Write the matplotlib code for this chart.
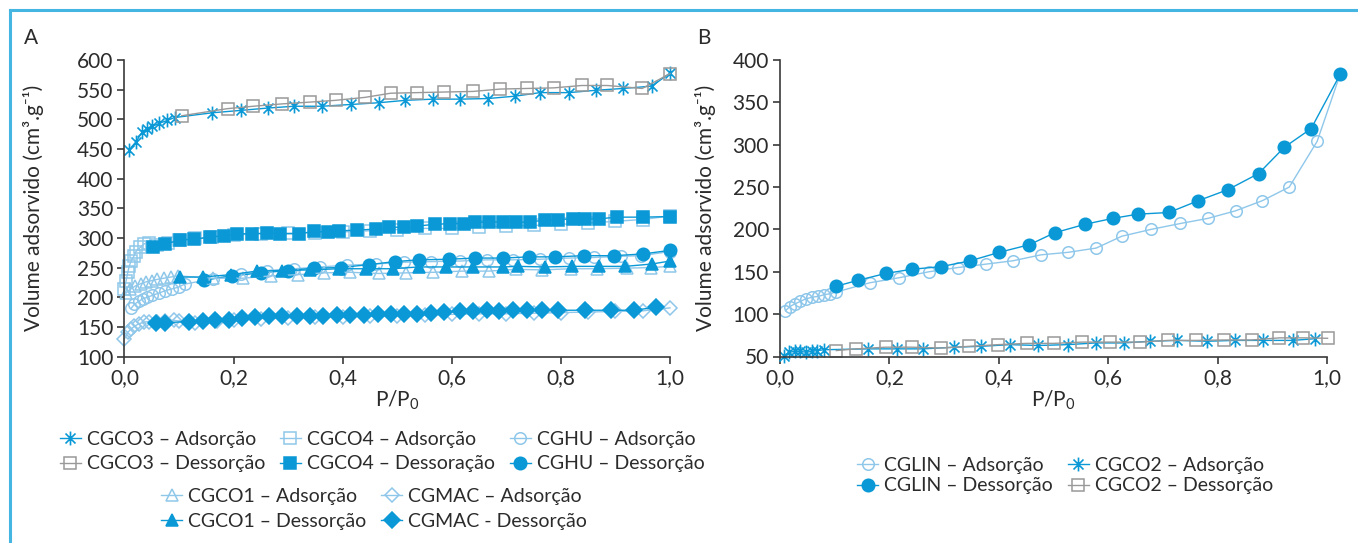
import matplotlib
matplotlib.use("Agg")
import matplotlib.pyplot as plt
from matplotlib.path import Path
from matplotlib.lines import Line2D

# ---------------- data: panel A ----------------
cgco3_ads_x = [0.009, 0.021, 0.032, 0.042, 0.051, 0.063, 0.078, 0.092, 0.161, 0.213, 0.263, 0.311, 0.362,
               0.415, 0.467, 0.515, 0.566, 0.615, 0.666, 0.716, 0.762, 0.815, 0.865, 0.914, 0.967, 1.0]
cgco3_ads_y = [449, 462, 478, 483, 488, 493, 498, 503, 511, 515, 519, 522, 522,
               525, 528, 532, 534, 534, 535, 539, 545, 545, 549, 552, 556, 578]
cgco3_des_x = [1.0, 0.949, 0.885, 0.838, 0.787, 0.738, 0.689, 0.639, 0.586, 0.537, 0.488, 0.441, 0.387,
               0.340, 0.289, 0.236, 0.189, 0.105]
cgco3_des_y = [577, 552, 557, 557, 553, 552, 551, 547, 546, 545, 544, 537, 532, 529, 526, 522, 518, 506]

cgco4_ads_x = [0.0, 0.003, 0.006, 0.009, 0.012, 0.017, 0.021, 0.029, 0.036, 0.045, 0.06, 0.08, 0.1, 0.13,
               0.16, 0.2, 0.25, 0.3, 0.35, 0.4, 0.45, 0.5, 0.55, 0.6, 0.65, 0.7, 0.75, 0.8, 0.85, 0.9,
               0.95, 1.0]
cgco4_ads_y = [214, 228, 242, 253, 261, 269, 277, 284, 290, 292, 288, 292, 296, 299,
               302, 305, 307, 308, 309, 310, 312, 314, 316, 316, 318, 320, 321, 323, 325, 328,
               331, 337]
cgco4_des_x = [1.0, 0.951, 0.902, 0.869, 0.844, 0.822, 0.795, 0.770, 0.744, 0.717, 0.693, 0.668, 0.643,
               0.623, 0.597, 0.570, 0.537, 0.512, 0.485, 0.461, 0.426, 0.393, 0.373, 0.348, 0.320,
               0.285, 0.261, 0.234, 0.207, 0.182, 0.157, 0.127, 0.102, 0.074, 0.053]
cgco4_des_y = [336, 335, 335, 332, 332, 332, 331, 330, 327, 326, 327, 327, 326,
               324, 324, 323, 320, 318, 318, 315, 313, 312, 310, 311, 307,
               307, 308, 307, 307, 304, 301, 298, 296, 290, 284]

cghu_ads_x = [0.012, 0.018, 0.026, 0.033, 0.042, 0.051, 0.063, 0.075, 0.087, 0.099, 0.11, 0.162, 0.213,
              0.262, 0.311, 0.359, 0.408, 0.461, 0.512, 0.561, 0.615, 0.664, 0.713, 0.762, 0.814,
              0.861, 0.910, 0.947, 1.0]
cghu_ads_y = [181, 188, 193, 197, 200, 203, 207, 211, 214, 217, 222, 231, 239,
              245, 248, 251, 254, 256, 259, 260, 261, 263, 263, 264, 266,
              267, 269, 270, 277]
cghu_des_x = [1.0, 0.951, 0.898, 0.842, 0.789, 0.742, 0.693, 0.643, 0.594, 0.539, 0.495, 0.449, 0.396,
              0.347, 0.299, 0.250, 0.197, 0.146]
cghu_des_y = [279, 273, 270, 270, 268, 268, 266, 266, 264, 263, 260, 255, 250, 249, 245, 241, 236, 229]

cgco1_ads_x = [0.003, 0.01, 0.02, 0.03, 0.04, 0.05, 0.06, 0.072, 0.085, 0.098, 0.162, 0.217, 0.269,
               0.318, 0.365, 0.414, 0.467, 0.516, 0.566, 0.619, 0.668, 0.717, 0.766, 0.818, 0.867,
               0.922, 0.966, 1.0]
cgco1_ads_y = [207, 213, 219, 223, 226, 228, 230, 232, 234, 236, 232, 232, 236,
               238, 241, 242, 240, 241, 242, 244, 244, 247, 246, 248, 248,
               249, 250, 252]
cgco1_des_x = [1.0, 0.967, 0.918, 0.869, 0.820, 0.770, 0.721, 0.693, 0.639, 0.590, 0.539, 0.492, 0.443,
               0.393, 0.340, 0.289, 0.242, 0.195, 0.143, 0.102]
cgco1_des_y = [261, 256, 252, 252, 252, 251, 252, 251, 251, 251, 251, 248, 248,
               248, 246, 245, 244, 238, 234, 234]

cgmac_ads_x = [0.0, 0.006, 0.012, 0.018, 0.026, 0.036, 0.045, 0.06, 0.075, 0.09, 0.099, 0.13, 0.17,
               0.2, 0.25, 0.3, 0.35, 0.4, 0.45, 0.5, 0.55, 0.6, 0.65, 0.7, 0.75, 0.8, 0.85, 0.9,
               0.95, 1.0]
cgmac_ads_y = [130, 141, 146, 151, 155, 158, 159, 159, 160, 161, 160, 157, 160,
               162, 164, 165, 166, 167, 168, 169, 170, 171, 172, 172, 173, 174, 175, 176,
               177, 182]
cgmac_des_x = [0.974, 0.934, 0.892, 0.844, 0.795, 0.765, 0.738, 0.713, 0.687, 0.664, 0.639, 0.615,
               0.586, 0.561, 0.537, 0.512, 0.489, 0.464, 0.439, 0.414, 0.389, 0.363, 0.340, 0.316,
               0.289, 0.264, 0.240, 0.216, 0.191, 0.166, 0.143, 0.119, 0.074, 0.057]
cgmac_des_y = [183, 178, 178, 178, 178, 179, 178, 178, 177, 178, 177, 176,
               175, 173, 172, 172, 172, 172, 170, 170, 170, 169, 168, 168,
               168, 168, 166, 165, 162, 161, 160, 159, 157, 157]

# ---------------- data: panel B ----------------
cglin_ads_x = [0.010, 0.018, 0.027, 0.037, 0.047, 0.059, 0.070, 0.081, 0.091, 0.102, 0.164, 0.218,
               0.272, 0.325, 0.376, 0.426, 0.477, 0.527, 0.578, 0.625, 0.678, 0.732, 0.782, 0.833,
               0.882, 0.931, 0.982, 1.024]
cglin_ads_y = [104, 109, 112, 115, 118, 120, 121, 123, 124, 126, 137, 143,
               150, 155, 159, 163, 170, 173, 178, 192, 200, 207, 213, 222,
               234, 250, 304, 383]
cglin_des_x = [1.024, 0.971, 0.922, 0.875, 0.819, 0.765, 0.711, 0.654, 0.608, 0.557, 0.502, 0.456,
               0.401, 0.348, 0.294, 0.241, 0.193, 0.143, 0.103]
cglin_des_y = [383, 319, 297, 266, 247, 234, 220, 218, 213, 206, 196, 182,
               173, 163, 156, 153, 148, 140, 133]

cgco2_ads_x = [0.007, 0.017, 0.027, 0.037, 0.048, 0.058, 0.068, 0.081, 0.16, 0.214, 0.261, 0.319,
               0.367, 0.421, 0.472, 0.526, 0.577, 0.628, 0.676, 0.726, 0.781, 0.832, 0.883, 0.937,
               0.978]
cgco2_ads_y = [51, 55, 56, 56, 55, 56, 57, 58, 59, 59, 59, 61,
               62, 64, 63, 64, 66, 66, 68, 69, 68, 69, 69, 69, 71]
cgco2_des_x = [1.001, 0.957, 0.913, 0.862, 0.811, 0.76, 0.709, 0.659, 0.604, 0.553, 0.501, 0.451,
               0.399, 0.346, 0.295, 0.241, 0.193, 0.139, 0.103]
cgco2_des_y = [71.5, 72, 72, 69.5, 69.5, 69, 69, 67, 67, 67, 65.5, 65.5,
               64, 62, 60, 61, 61, 59, 57]

x_ticks = [0.0, 0.2, 0.4, 0.6, 0.8, 1.0]
x_tick_labels = ["0,0", "0,2", "0,4", "0,6", "0,8", "1,0"]
a_y_ticks = [100, 150, 200, 250, 300, 350, 400, 450, 500, 550, 600]
b_y_ticks = [50, 100, 150, 200, 250, 300, 350, 400]

# ---------------- style ----------------
plt.rcParams['font.family'] = ['Lato', 'DejaVu Sans']
plt.rcParams['font.weight'] = 'normal'
plt.rcParams['mathtext.default'] = 'regular'
TXT = '#2b2b2b'
AX = '#3a3a3a'
BLUE = '#0a99d6'
LIGHT = '#8ec7ea'
GREY = '#999999'
FRAME = '#45b6e2'

# asterisk marker: vertical bar plus an X
_s = 0.72
ASTER = Path([(0, -1), (0, 1), (-_s, -_s), (_s, _s), (-_s, _s), (_s, -_s)],
             [Path.MOVETO, Path.LINETO, Path.MOVETO, Path.LINETO, Path.MOVETO, Path.LINETO])

W, H = 1358, 543
fig = plt.figure(figsize=(W / 100, H / 100), dpi=100)

# light-blue frame on top and left
fig.add_artist(Line2D([10 / W, 10 / W], [0, 1 - 10 / H], color=FRAME, lw=2.2, transform=fig.transFigure))
fig.add_artist(Line2D([10 / W, 1], [1 - 10 / H, 1 - 10 / H], color=FRAME, lw=2.2, transform=fig.transFigure))


def axes_px(x0, x1, ytop, ybot):
    return fig.add_axes([x0 / W, 1 - ybot / H, (x1 - x0) / W, (ybot - ytop) / H])


axA = axes_px(124.5, 670, 60, 356.5)
axB = axes_px(780, 1327, 60, 356.5)

LW = 1.0
MS_O = 8.3   # open markers
MS_F = 9.0   # filled markers


def series(ax, x, y, marker, color, filled, ms=None, mew=1.1, label=None):
    ms = ms or (MS_F if filled else MS_O)
    return ax.plot(x, y, color=color, lw=LW, marker=marker, ms=ms,
                   mfc=color if filled else 'none', mec=color, mew=mew,
                   label=label, clip_on=False)[0]


# panel A
h = {}
h['co3a'] = series(axA, cgco3_ads_x, cgco3_ads_y, ASTER, BLUE, False, ms=10, mew=1.2, label='CGCO3 – Adsorção')
h['co3d'] = series(axA, cgco3_des_x, cgco3_des_y, 's', GREY, False, label='CGCO3 – Dessorção')
h['co4a'] = series(axA, cgco4_ads_x, cgco4_ads_y, 's', LIGHT, False, label='CGCO4 – Adsorção')
h['co4d'] = series(axA, cgco4_des_x, cgco4_des_y, 's', BLUE, True, label='CGCO4 – Dessoração')
h['hua'] = series(axA, cghu_ads_x, cghu_ads_y, 'o', LIGHT, False, label='CGHU – Adsorção')
h['hud'] = series(axA, cghu_des_x, cghu_des_y, 'o', BLUE, True, label='CGHU – Dessorção')
h['co1a'] = series(axA, cgco1_ads_x, cgco1_ads_y, '^', LIGHT, False, label='CGCO1 – Adsorção')
h['co1d'] = series(axA, cgco1_des_x, cgco1_des_y, '^', BLUE, True, label='CGCO1 – Dessorção')
h['maca'] = series(axA, cgmac_ads_x, cgmac_ads_y, 'D', LIGHT, False, ms=7.5, label='CGMAC – Adsorção')
h['macd'] = series(axA, cgmac_des_x, cgmac_des_y, 'D', BLUE, True, ms=8.5, label='CGMAC - Dessorção')

# panel B
hb = {}
hb['lina'] = series(axB, cglin_ads_x, cglin_ads_y, 'o', LIGHT, False, label='CGLIN – Adsorção')
hb['lind'] = series(axB, cglin_des_x, cglin_des_y, 'o', BLUE, True, label='CGLIN – Dessorção')
hb['co2a'] = series(axB, cgco2_ads_x, cgco2_ads_y, ASTER, BLUE, False, ms=10, mew=1.2, label='CGCO2 – Adsorção')
hb['co2d'] = series(axB, cgco2_des_x, cgco2_des_y, 's', GREY, False, label='CGCO2 – Dessorção')
# keep the open-circle branch under the filled one
hb['lina'].set_zorder(2)
hb['lind'].set_zorder(3)

FS = 15
for ax, yt, ylim, lpad in ((axA, a_y_ticks, (100, 600), 24), (axB, b_y_ticks, (50, 400), 12)):
    ax.set_xlim(0, 1.0)
    ax.set_ylim(*ylim)
    ax.set_xticks(x_ticks)
    ax.set_xticklabels(x_tick_labels)
    ax.set_yticks(yt)
    ax.set_yticklabels([str(v) for v in yt])
    for s in ('top', 'right'):
        ax.spines[s].set_visible(False)
    for s in ('left', 'bottom'):
        ax.spines[s].set_color(AX)
        ax.spines[s].set_linewidth(1.2)
    ax.tick_params(axis='both', direction='out', length=5, width=1.2, color=AX,
                   labelsize=FS, labelcolor=TXT, pad=3)
    ax.set_ylabel('Volume adsorvido (cm³.g⁻¹)', fontsize=FS, color=TXT, labelpad=lpad)
    ax.set_xlabel('P/P$_0$', fontsize=FS, color=TXT, labelpad=1)
    ax.patch.set_visible(False)

fig.text(24 / W, 1 - 38 / H, 'A', fontsize=FS, color=TXT, va='center', ha='left')
fig.text(697 / W, 1 - 38 / H, 'B', fontsize=FS, color=TXT, va='center', ha='left')

LFS = 14
leg_kw = dict(frameon=False, fontsize=LFS, handlelength=1.1, handletextpad=0.3,
              labelspacing=0.4, columnspacing=0.75, borderpad=0, labelcolor=TXT)
order1 = [h['co3a'], h['co3d'], h['co4a'], h['co4d'], h['hua'], h['hud']]
fig.legend(handles=order1, labels=[l.get_label() for l in order1], ncol=3, loc='center',
           bbox_to_anchor=(382 / W, 1 - 451.5 / H), **leg_kw)
order2 = [h['co1a'], h['co1d'], h['maca'], h['macd']]
fig.legend(handles=order2, labels=[l.get_label() for l in order2], ncol=2, loc='center',
           bbox_to_anchor=(374 / W, 1 - 509 / H), **leg_kw)
order3 = [hb['lina'], hb['lind'], hb['co2a'], hb['co2d']]
fig.legend(handles=order3, labels=[l.get_label() for l in order3], ncol=2, loc='center',
           bbox_to_anchor=(1065 / W, 1 - 475.5 / H), **dict(leg_kw, labelspacing=0.2))

fig.savefig('out.png', dpi=100, facecolor='white')
